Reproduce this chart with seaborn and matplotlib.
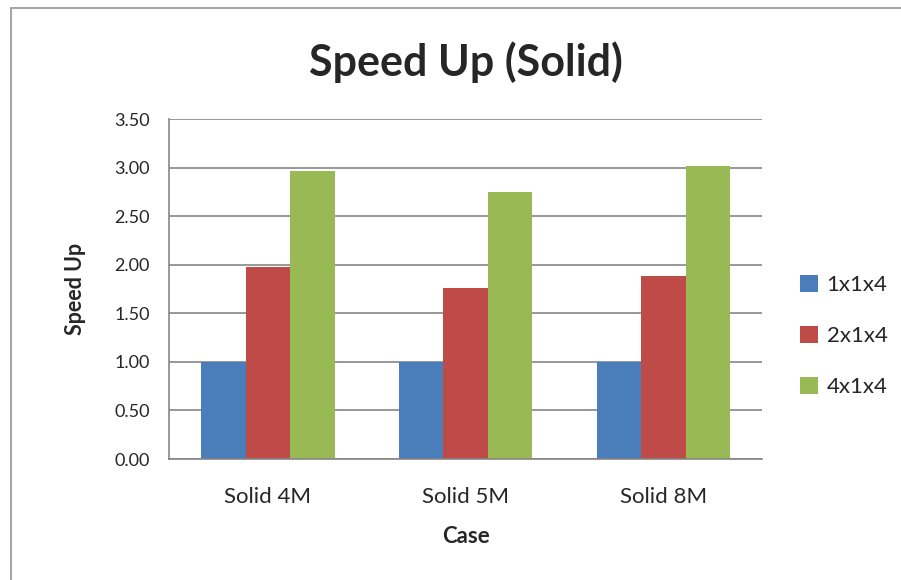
import matplotlib.pyplot as plt
import pandas as pd
import seaborn as sb
from matplotlib.lines import Line2D

cases = ['Solid 4M', 'Solid 5M', 'Solid 8M']
configs = ['1x1x4', '2x1x4', '4x1x4']
speedup_1x1x4 = [1.00, 1.00, 1.00]
speedup_2x1x4 = [1.98, 1.76, 1.88]
speedup_4x1x4 = [2.96, 2.75, 3.02]
y_ticks = [0.0, 0.5, 1.0, 1.5, 2.0, 2.5, 3.0, 3.5]

df = pd.DataFrame({
    'Case': cases * 3,
    'Config': [c for c in configs for _ in cases],
    'Speed Up': speedup_1x1x4 + speedup_2x1x4 + speedup_4x1x4,
})

sb.set_style('white')
plt.rcParams['font.family'] = ['Lato', 'DejaVu Sans']

fig = plt.figure(figsize=(9.01, 5.80), dpi=100)
ax = fig.add_axes([0.1876, 0.2086, 0.6583, 0.5862])

palette = ['#4A7EBB', '#BE4B48', '#98B954']
sb.barplot(x='Case', y='Speed Up', hue='Config', data=df, palette=palette,
           width=0.675, gap=0, saturation=1, ax=ax, edgecolor='none')

ax.set_ylim(0, 3.5)
ax.set_yticks(y_ticks)
ax.set_yticklabels(['%.2f' % v for v in y_ticks], fontsize=13)
ax.tick_params(axis='y', length=8, width=1.2, color='#868686', direction='out', pad=6)
ax.tick_params(axis='x', length=0, labelsize=16, pad=20)
ax.yaxis.grid(True, color='#868686', linewidth=1.2)
ax.set_axisbelow(True)
for s in ['top', 'right']:
    ax.spines[s].set_visible(False)
for s in ['left', 'bottom']:
    ax.spines[s].set_color('#868686')
    ax.spines[s].set_linewidth(1.2)

ax.set_xlabel('Case', fontsize=16, fontweight='bold', labelpad=14)
ax.set_ylabel('Speed Up', fontsize=15.5, fontweight='bold', labelpad=20)
fig.text(0.517, 0.893, 'Speed Up (Solid)', ha='center', va='center',
         fontsize=31, fontweight='bold')

ax.legend(loc='center left', bbox_to_anchor=(1.03, 0.362), frameon=False,
          fontsize=16, handlelength=0.8, handleheight=0.8, labelspacing=1.38,
          handletextpad=0.4)

fig.add_artist(Line2D([11/901, 11/901], [0, 1 - 8/580], transform=fig.transFigure,
                      color='#a6a6a6', linewidth=1.5))
fig.add_artist(Line2D([11/901, 1], [1 - 8/580, 1 - 8/580], transform=fig.transFigure,
                      color='#a6a6a6', linewidth=1.5))

fig.savefig('out.png', dpi=100)
